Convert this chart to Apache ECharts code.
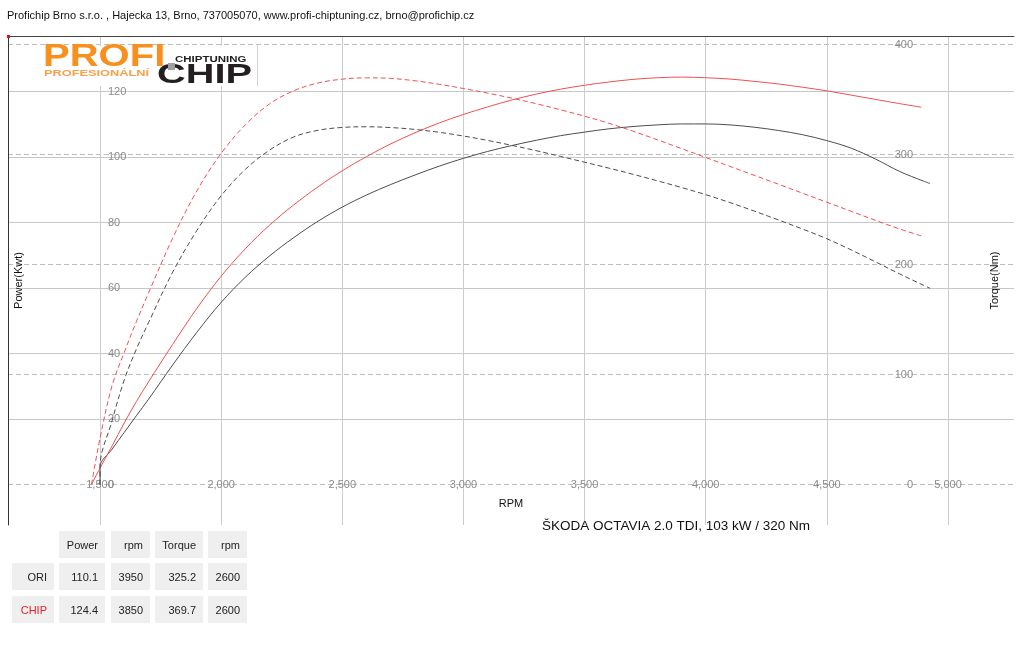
<!DOCTYPE html>
<html><head><meta charset="utf-8">
<script src="https://cdn.jsdelivr.net/npm/echarts@6/dist/echarts.min.js"></script>
<style>html,body{margin:0;padding:0;background:#fff}#chart{width:1024px;height:648px}</style>
</head><body><div id="chart"></div>
<script>
// ---------- data ----------
const headerText = 'Profichip Brno s.r.o. , Hajecka 13, Brno, 737005070, www.profi-chiptuning.cz, brno@profichip.cz';
const carTitle = 'ŠKODA OCTAVIA 2.0 TDI, 103 kW / 320 Nm';
const axisNames = { x: 'RPM', power: 'Power(Kwt)', torque: 'Torque(Nm)' };

const chipRpm = [1465,1500,1550,1600,1650,1700,1800,1900,2000,2100,2200,2300,2400,2500,2600,2700,2800,2900,3000,3100,3200,3300,3400,3500,3600,3700,3800,3900,4000,4100,4200,4300,4400,4500,4600,4700,4800,4890];
const chipPower = [0,5,11.8,18.8,25.3,31.3,42.8,53.8,63.6,72,79.2,85.4,90.9,95.8,100.1,104,107.4,110.4,113,115.3,117.4,119.2,120.7,121.9,122.9,123.7,124.2,124.4,124.2,123.8,123.1,122.3,121.3,120.2,118.9,117.6,116.3,115.2];
const chipTorque = [0,42,90,120,148,174,224,267,301,327,346,358,365,368.5,369.7,369.2,367,363.8,360,355.8,351.2,346.2,340.7,334.8,328.4,321.2,313.4,305.4,297.3,289.2,281.1,273,264.8,256.6,248.4,240.2,232.3,226];

const oriRpm = [1500,1500,1550,1600,1650,1700,1800,1900,2000,2100,2200,2300,2400,2500,2600,2700,2800,2900,3000,3100,3200,3300,3400,3500,3600,3700,3800,3900,4000,4100,4200,4300,4400,4500,4600,4700,4800,4900,4926];
const oriPower = [0,5.4,10.8,15.9,21,26,36.5,46.5,55.6,63.3,69.8,75.4,80.4,84.7,88.4,91.6,94.5,97.2,99.6,101.7,103.5,105.1,106.5,107.6,108.6,109.3,109.8,110.1,110.1,109.8,109.1,108.1,106.8,105,102.7,99.4,95.6,92.6,91.9];
const oriTorque = [0,16,58,95,123,147,193,231,262.5,286.5,304,316,322,324.6,325.2,324.5,322.8,320.2,316.8,312.8,308.3,303.5,298.3,293,287.6,282,276.1,270,263.5,256.3,248.6,240.5,232.2,223.4,213.3,202.5,191.5,181,178.4];

const rpmTickMin = 1000, rpmTickMax = 5500, rpmStep = 500;
const powerStep = 20, torqueStep = 100;

const tableHead = ['Power', 'rpm', 'Torque', 'rpm'];
const rowLabels = ['ORI', 'CHIP'];
const maxPower = [110.1, 124.4];
const maxPowerRpm = [3950, 3850];
const maxTorque = [325.2, 369.7];
const maxTorqueRpm = [2600, 2600];

// ---------- layout ----------
const FONT = "'Liberation Sans', Arial, sans-serif";
const BOX_L = 8, BOX_R = 1014, BOX_T = 36, BOX_B = 525, BASE_Y = 484.5;
const PX1500 = 100, PX5000 = 948;
const K = (PX5000 - PX1500) / 3500;      // px per rpm
const PWR_K = 3.275, TRQ_K = 1.1;       // px per kW / Nm

const xAmin = 1500 - (PX1500 - BOX_L) / K;
const xAmax = 1500 + (BOX_R - PX1500) / K;
const pMax = (BASE_Y - BOX_T) / PWR_K;
const tMax = (BASE_Y - BOX_T) / TRQ_K;
const gridBLeft = PX1500 - (1500 - rpmTickMin) * K;
const gridBWidth = (rpmTickMax - rpmTickMin) * K;

const RED = '#ee5050', DARK = '#4d4d4d', LABEL = '#8a8a8a';

function pairs(xs, ys) { return xs.map((x, i) => [x, ys[i]]); }
function off() { return { show: false }; }

const chart = echarts.init(document.getElementById('chart'), null, { renderer: 'canvas' });

// table graphic built from arrays
const colX = [12, 59, 111, 155, 208], colW = [42, 46, 39, 48, 39];
const rowY = [531, 563, 596], rowH = 27;
const tableEls = [];
function cell(ci, ri, text, color) {
  tableEls.push({ type: 'rect', shape: { x: colX[ci], y: rowY[ri], width: colW[ci], height: rowH }, style: { fill: '#efefef' }, z: 10 });
  tableEls.push({ type: 'text', x: colX[ci] + colW[ci] - 7, y: rowY[ri] + rowH / 2 + 1.5, z: 11,
    style: { text: String(text), fill: color || '#222', font: '11px ' + FONT, align: 'right', verticalAlign: 'middle' } });
}
tableHead.forEach((h, i) => cell(i + 1, 0, h));
rowLabels.forEach((lab, r) => {
  cell(0, r + 1, lab, lab === 'CHIP' ? '#e3242b' : '#222');
  cell(1, r + 1, maxPower[r].toFixed(1));
  cell(2, r + 1, maxPowerRpm[r]);
  cell(3, r + 1, maxTorque[r].toFixed(1));
  cell(4, r + 1, maxTorqueRpm[r]);
});

const logoEls = [
  { type: 'rect', shape: { x: 40, y: 46, width: 218, height: 40 }, style: { fill: '#fff' }, z: 5 },
  { type: 'text', x: 43, y: 58, scaleX: 1.38, scaleY: 1.05, z: 6, style: { text: 'PROFI', fill: '#f7901e', font: 'bold 29px ' + FONT, verticalAlign: 'middle' } },
  { type: 'text', x: 44, y: 73.5, scaleX: 1.42, z: 6, style: { text: 'PROFESIONÁLNÍ', fill: '#f7a04a', font: 'bold 9px ' + FONT, verticalAlign: 'middle' } },
  { type: 'text', x: 175, y: 60, scaleX: 1.35, z: 6, style: { text: 'CHIPTUNING', fill: '#231f20', font: 'bold 8.5px ' + FONT, verticalAlign: 'middle' } },
  { type: 'text', x: 157, y: 75, scaleX: 1.42, z: 6, style: { text: 'CHIP', fill: '#231f20', font: 'bold 28px ' + FONT, verticalAlign: 'middle' } },
  { type: 'rect', shape: { x: 168, y: 63, width: 7, height: 7 }, style: { fill: '#a0a0a0' }, z: 7 },
  { type: 'line', shape: { x1: 257.5, y1: 45, x2: 257.5, y2: 86 }, style: { stroke: '#d0d0d0', lineWidth: 1 }, z: 6 },
  { type: 'rect', shape: { x: 7, y: 35, width: 3, height: 3 }, style: { fill: '#e01010' }, z: 20 }
];

const option = {
  animation: false,
  textStyle: { fontFamily: FONT },
  title: [
    { text: headerText, left: 2, top: 5, textStyle: { fontSize: 11, fontWeight: 'normal', color: '#111', fontFamily: FONT } },
    { text: carTitle, left: 537, top: 514, textStyle: { fontSize: 13.5, fontWeight: 'normal', color: '#111', fontFamily: FONT } }
  ],
  grid: [
    { left: BOX_L, width: BOX_R - BOX_L, top: BOX_T, height: BASE_Y - BOX_T, outerBoundsMode: 'none', containLabel: false },
    { left: gridBLeft, width: gridBWidth, top: BOX_T, height: BOX_B - BOX_T, outerBoundsMode: 'none', containLabel: false },
    { left: BOX_L, width: BOX_R - BOX_L, top: BOX_T, height: BOX_B - BOX_T, outerBoundsMode: 'none', containLabel: false }
  ],
  xAxis: [
    { gridIndex: 0, type: 'value', min: xAmin, max: xAmax, show: false },
    { gridIndex: 1, type: 'value', min: rpmTickMin, max: rpmTickMax, interval: rpmStep, position: 'bottom', offset: -(BOX_B - BASE_Y),
      axisLine: off(), axisTick: off(),
      axisLabel: { margin: 0, verticalAlign: 'middle', color: LABEL, fontSize: 11,
        formatter: v => (v === rpmTickMin || v === rpmTickMax) ? '' : v.toLocaleString('en-US') },
      splitLine: { show: true, lineStyle: { color: '#cccccc', width: 1 } } },
    { gridIndex: 2, type: 'value', min: 0, max: 1, position: 'top', z: 8,
      axisLine: { show: true, onZero: false, lineStyle: { color: '#444', width: 1 } }, axisTick: off(), axisLabel: off(), splitLine: off() },
    { gridIndex: 2, type: 'value', min: 0, max: 1, position: 'bottom', name: axisNames.x, nameLocation: 'middle', nameGap: -27,
      nameTextStyle: { color: '#111', fontSize: 11 },
      axisLine: off(), axisTick: off(), axisLabel: off(), splitLine: off() }
  ],
  yAxis: [
    { gridIndex: 0, type: 'value', min: 0, max: pMax, interval: powerStep, position: 'left', offset: -(PX1500 - BOX_L),
      axisLine: off(), axisTick: off(),
      axisLabel: { inside: true, margin: 8, color: LABEL, fontSize: 11, formatter: v => (v % powerStep === 0 ? String(v) : '') },
      splitLine: { show: true, showMinLine: false, showMaxLine: false, lineStyle: { color: '#c8c8c8', width: 1 } } },
    { gridIndex: 0, type: 'value', min: 0, max: tMax, interval: torqueStep, position: 'right', offset: -(BOX_R - 921),
      axisLine: off(), axisTick: off(),
      axisLabel: { inside: true, margin: 8, color: LABEL, fontSize: 11, formatter: v => (v % torqueStep === 0 ? String(v) : '') },
      splitLine: { show: true, showMaxLine: false, lineStyle: { color: '#bdbdbd', width: 1, type: [5, 3] } } },
    { gridIndex: 1, type: 'value', min: 0, max: 1, show: false },
    { gridIndex: 2, type: 'value', min: 0, max: 1, position: 'left', z: 8, name: axisNames.power, nameLocation: 'middle', nameGap: -16,
      nameTextStyle: { color: '#111', fontSize: 11 },
      axisLine: { show: true, onZero: false, lineStyle: { color: '#333', width: 1 } }, axisTick: off(), axisLabel: off(), splitLine: off() },
    { gridIndex: 2, type: 'value', min: 0, max: 1, position: 'right', name: axisNames.torque, nameLocation: 'middle', nameGap: -25,
      nameTextStyle: { color: '#111', fontSize: 11 },
      axisLine: off(), axisTick: off(), axisLabel: off(), splitLine: off() }
  ],
  series: [
    { name: 'ORI Power', type: 'line', xAxisIndex: 0, yAxisIndex: 0, data: pairs(oriRpm, oriPower), showSymbol: false, smooth: 0.35,
      lineStyle: { color: DARK, width: 1 }, z: 3 },
    { name: 'CHIP Power', type: 'line', xAxisIndex: 0, yAxisIndex: 0, data: pairs(chipRpm, chipPower), showSymbol: false, smooth: 0.35,
      lineStyle: { color: RED, width: 1 }, z: 3 },
    { name: 'ORI Torque', type: 'line', xAxisIndex: 0, yAxisIndex: 1, data: pairs(oriRpm, oriTorque), showSymbol: false, smooth: 0.35,
      lineStyle: { color: DARK, width: 1, type: [5, 3] }, z: 3 },
    { name: 'CHIP Torque', type: 'line', xAxisIndex: 0, yAxisIndex: 1, data: pairs(chipRpm, chipTorque), showSymbol: false, smooth: 0.35,
      lineStyle: { color: RED, width: 1, type: [5, 3] }, z: 3 }
  ],
  graphic: { elements: logoEls.concat(tableEls) }
};
chart.setOption(option);
</script></body></html>
